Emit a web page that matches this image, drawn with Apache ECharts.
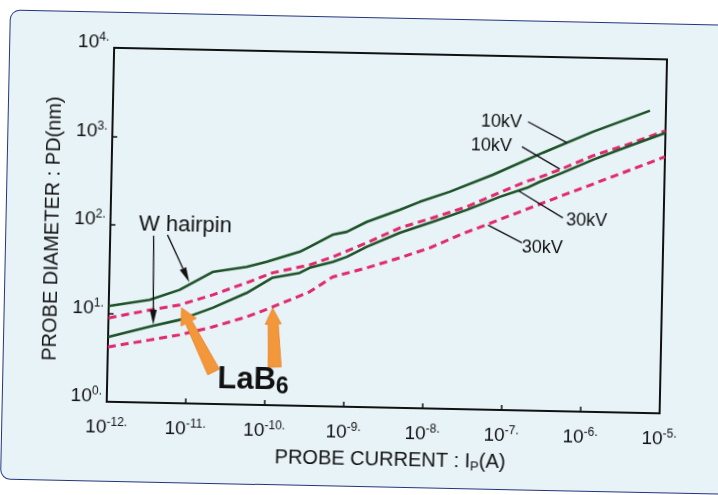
<!DOCTYPE html>
<html>
<head>
<meta charset="utf-8">
<script src="https://cdn.jsdelivr.net/npm/echarts/dist/echarts.min.js"></script>
<style>
  html, body { margin: 0; padding: 0; background: #fff; overflow: hidden; }
  #sheet { position: relative; width: 718px; height: 495px; transform: rotate(1.2deg); transform-origin: 359px 247.5px; }
  #frame { position: absolute; left: 5px; top: 17px; width: 740px; height: 470px; box-sizing: border-box;
           border: 1.5px solid #26367c; border-radius: 10px; background: #e8f3f8; }
  #chart { position: absolute; left: 0; top: 0; width: 718px; height: 495px; }
</style>
</head>
<body>
<div id="sheet"><div id="frame"></div><div id="chart"></div></div>
<script>
// Probe diameter vs. probe current, W hairpin and LaB6 guns at 10 kV / 30 kV.

// W hairpin, 10 kV
const wHairpin10kV_I = [1e-12, 3.27e-12, 7.8e-12, 2.02e-11, 5.43e-11, 9.7e-11, 2.52e-10, 3.37e-10, 6.53e-10, 9.84e-10,
                        1.75e-9, 4.55e-9, 8.11e-9, 1.93e-8, 6.71e-8, 2.84e-7, 1.21e-6, 6.28e-6];
const wHairpin10kV_D = [12.1, 14.5, 19.1, 31, 36.1, 41.5, 54.9, 62.8, 87, 94.6,
                        124, 173, 215, 284, 452, 824, 1463, 2608];

// W hairpin, 30 kV
const wHairpin30kV_I = [1e-12, 3.62e-12, 7.94e-12, 2.07e-11, 5.52e-11, 1.17e-10, 2.55e-10, 3.41e-10, 6.65e-10, 1.0e-9,
                        1.78e-9, 4.61e-9, 1.2e-8, 3.21e-8, 8.34e-8, 1.83e-7, 2.65e-7, 4.74e-7, 1.23e-6, 3.29e-6, 1e-5];
const wHairpin30kV_D = [5.4, 7.37, 8.75, 12.2, 18.3, 27.6, 31.7, 36.4, 43, 49.4,
                        64.8, 95, 129, 179, 256, 328, 387, 481, 706, 1008, 1480];

// LaB6, 10 kV
const lab6_10kV_I = [1e-12, 3.29e-12, 7.87e-12, 2.07e-11, 5.45e-11, 1.16e-10, 3.41e-10, 6.64e-10, 1.77e-9, 4.6e-9,
                     1.2e-8, 3.21e-8, 8.09e-8, 1.82e-7, 2.65e-7, 4.71e-7, 1.22e-6, 3.28e-6, 1e-5];
const lab6_10kV_D = [8.85, 11.1, 12.9, 17.1, 23.8, 31.3, 39.3, 49, 71.9, 108,
                     143, 194, 284, 390, 437, 535, 783, 1065, 1561];

// LaB6, 30 kV
const lab6_30kV_I = [1e-12, 3.35e-12, 8.0e-12, 2.09e-11, 5.6e-11, 1.19e-10, 3.46e-10, 6.71e-10, 1.8e-9, 4.68e-9,
                     1.12e-8, 2.65e-8, 4.66e-7, 1e-5];
const lab6_30kV_D = [4.16, 5.1, 5.92, 7.42, 9.8, 12.9, 19.5, 29.1, 37.5, 49.6,
                     65.3, 93, 264, 792];

// Decade exponents used for the tick labels
const xTickExponents = [-12, -11, -10, -9, -8, -7, -6, -5];
const yTickExponents = [0, 1, 2, 3, 4];

// Voltage labels with their leader lines (anchors in data units: [current A, diameter nm])
const voltageLabels = [
  { text: '10kV', at: [8.34e-8, 1783], from: [1.81e-7, 1830], to: [5.7e-7, 1083] },
  { text: '10kV', at: [6.31e-8, 950],  from: [1.54e-7, 952],  to: [4.71e-7, 545] },
  { text: '30kV', at: [1.06e-6, 144],  from: [5.3e-7, 153],   to: [1.45e-7, 300] },
  { text: '30kV', at: [2.97e-7, 70.3], from: [1.63e-7, 78.2], to: [6.0e-8, 122] }
];
// "W hairpin" label and its two pointers
const wHairpinLabel = { text: 'W hairpin', at: [8.9e-12, 104] };
const wHairpinPointers = [
  { from: [3.55e-12, 77], to: [3.7e-12, 7.6] },
  { from: [5.31e-12, 79.4], to: [1.03e-11, 23.5] }
];
// "LaB6" label and its two pointers
const lab6Label = { at: [2.49e-11, 1.87] };
const lab6Pointers = [
  { tail: [2.21e-11, 2.30], tip: [8.36e-12, 11.97] },
  { tail: [1.31e-10, 2.70], tip: [1.19e-10, 12.5] }
];

const FONT = '"Liberation Sans", Arial, Helvetica, sans-serif';
const INK = '#111';
const GREEN = '#1e5428';
const RED = '#e02a6c';
const ORANGE = '#f3973b';

const zip = (xs, ys) => xs.map((x, i) => [x, ys[i]]);
const decade = v => Math.round(Math.log10(v));

const powerLabel = {
  fontFamily: FONT,
  color: INK,
  rich: {
    b: { fontFamily: FONT, fontSize: 19, color: INK, lineHeight: 22 },
    s: { fontFamily: FONT, fontSize: 12, color: INK, lineHeight: 12, verticalAlign: 'top' }
  }
};

const chart = echarts.init(document.getElementById('chart'), null, { renderer: 'canvas' });

function lineSeries(name, xs, ys, color, dashed) {
  return {
    name: name,
    type: 'line',
    data: zip(xs, ys),
    showSymbol: false,
    symbol: 'none',
    smooth: false,
    lineStyle: { color: color, width: dashed ? 3 : 2.6, type: dashed ? [8, 5] : 'solid', cap: 'butt' },
    z: dashed ? 3 : 4,
    silent: true
  };
}

chart.setOption({
  animation: false,
  backgroundColor: 'transparent',
  grid: {
    left: 110, top: 53, width: 553, height: 354,
    show: true, backgroundColor: '#e8f3f8', borderColor: INK, borderWidth: 2,
    containLabel: false, outerBoundsMode: 'none'
  },
  xAxis: {
    type: 'log', logBase: 10, min: 1e-12, max: 1e-5, splitNumber: 7,
    axisLine: { show: true, lineStyle: { color: INK, width: 2 } },
    axisTick: { show: true, inside: true, length: 5, lineStyle: { color: INK, width: 1.5 } },
    splitLine: { show: false },
    minorTick: { show: false },
    axisLabel: Object.assign({
      margin: 15, showMinLabel: true, showMaxLabel: true, hideOverlap: false,
      formatter: v => xTickExponents.includes(decade(v)) ? '{b|10}{s|' + decade(v) + '.}' : ''
    }, powerLabel),
    name: 'PROBE CURRENT : I{p|P}(A)',
    nameLocation: 'middle',
    nameGap: 36,
    nameTextStyle: {
      fontFamily: FONT, fontSize: 20, color: INK, lineHeight: 24, padding: [0, 0, 0, 16],
      rich: { p: { fontFamily: FONT, fontSize: 13, color: INK, lineHeight: 18, verticalAlign: 'bottom' } }
    }
  },
  yAxis: {
    type: 'log', logBase: 10, min: 1, max: 1e4, splitNumber: 4,
    axisLine: { show: true, lineStyle: { color: INK, width: 2 } },
    axisTick: { show: true, inside: true, length: 5, lineStyle: { color: INK, width: 1.5 } },
    splitLine: { show: false },
    minorTick: { show: false },
    axisLabel: Object.assign({
      margin: 5, padding: [0, 0, 10, 0], showMinLabel: true, showMaxLabel: true, hideOverlap: false,
      formatter: v => yTickExponents.includes(decade(v)) ? '{b|10}{s|' + decade(v) + '.}' : ''
    }, powerLabel),
    name: 'PROBE DIAMETER : PD(nm)',
    nameLocation: 'middle',
    nameRotate: 90,
    nameGap: 44,
    nameTextStyle: { fontFamily: FONT, fontSize: 20, color: INK, padding: [0, 10, 0, 0] }
  },
  series: [
    lineSeries('W hairpin 10kV', wHairpin10kV_I, wHairpin10kV_D, GREEN, false),
    lineSeries('W hairpin 30kV', wHairpin30kV_I, wHairpin30kV_D, GREEN, false),
    lineSeries('LaB6 10kV', lab6_10kV_I, lab6_10kV_D, RED, true),
    lineSeries('LaB6 30kV', lab6_30kV_I, lab6_30kV_D, RED, true)
  ]
});

// ---- annotations, placed through the axes' own scales ----
const P = pt => chart.convertToPixel({ xAxisIndex: 0, yAxisIndex: 0 }, pt);

function arrowPoints(tail, tip, tailW, neckW, headW, headL) {
  const dx = tip[0] - tail[0], dy = tip[1] - tail[1];
  const len = Math.hypot(dx, dy);
  const ux = dx / len, uy = dy / len;
  const nx = -uy, ny = ux;
  const neck = [tip[0] - ux * headL, tip[1] - uy * headL];
  const off = (p, w) => [p[0] + nx * w / 2, p[1] + ny * w / 2];
  return [
    off(tail, tailW), off(neck, neckW), off(neck, headW), tip,
    off(neck, -headW), off(neck, -neckW), off(tail, -tailW)
  ];
}

const graphics = [];

voltageLabels.forEach(l => {
  const a = P(l.from), b = P(l.to), t = P(l.at);
  graphics.push({ type: 'line', silent: true, z: 10,
    shape: { x1: a[0], y1: a[1], x2: b[0], y2: b[1] },
    style: { stroke: INK, lineWidth: 1.3 } });
  graphics.push({ type: 'text', silent: true, z: 10, x: t[0], y: t[1],
    style: { text: l.text, font: '18px ' + FONT, fill: INK, align: 'center', verticalAlign: 'middle' } });
});

(function () {
  const t = P(wHairpinLabel.at);
  graphics.push({ type: 'text', silent: true, z: 10, x: t[0], y: t[1],
    style: { text: wHairpinLabel.text, font: '22px ' + FONT, fill: INK, align: 'center', verticalAlign: 'middle' } });
})();

wHairpinPointers.forEach(p => {
  const a = P(p.from), b = P(p.to);
  const pts = arrowPoints(a, b, 1.3, 1.3, 7, 15);
  graphics.push({ type: 'line', silent: true, z: 10,
    shape: { x1: a[0], y1: a[1], x2: pts[1][0] * 0.5 + pts[5][0] * 0.5, y2: pts[1][1] * 0.5 + pts[5][1] * 0.5 },
    style: { stroke: INK, lineWidth: 1.3 } });
  graphics.push({ type: 'polygon', silent: true, z: 10,
    shape: { points: [pts[2], pts[3], pts[4]] },
    style: { fill: INK } });
});

lab6Pointers.forEach((p, i) => {
  const a = P(p.tail), b = P(p.tip);
  const pts = i === 0 ? arrowPoints(a, b, 13, 7, 17, 16) : arrowPoints(a, b, 13, 10, 16, 16);
  graphics.push({ type: 'polygon', silent: true, z: 9,
    shape: { points: pts },
    style: { fill: ORANGE, stroke: '#e9822a', lineWidth: 0.8 } });
});

(function () {
  const t = P(lab6Label.at);
  graphics.push({ type: 'text', silent: true, z: 10, x: t[0], y: t[1],
    style: {
      text: '{m|LaB}{sub|6}', align: 'left', verticalAlign: 'middle',
      rich: {
        m: { fontFamily: FONT, fontSize: 31, fontWeight: 'bold', fill: INK, color: INK, lineHeight: 34 },
        sub: { fontFamily: FONT, fontSize: 23, fontWeight: 'bold', fill: INK, color: INK, lineHeight: 30, verticalAlign: 'bottom' }
      }
    } });
})();

chart.setOption({ graphic: { elements: graphics } });
</script>
</body>
</html>
